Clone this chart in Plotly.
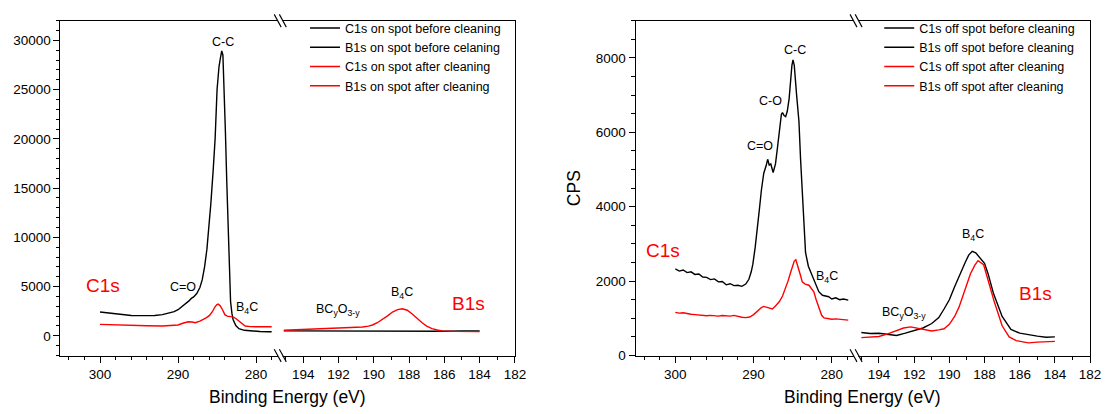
import plotly.graph_objects as go

# The page body has an 8px margin, so the figure is laid out in page pixels shifted by OFF.
OFF = 8
FW, FH = 1105, 406
FONT = "Liberation Sans, Arial, sans-serif"
BLACK = "#000000"
RED = "#FF0000"

# ---------------- data: left panel (on spot) ----------------
c1s_on_before_be = [300, 299, 298, 297, 296, 295, 294, 293, 292, 291, 290.5, 290, 289.5, 289, 288.6, 288.3,
                    288.0, 287.6, 287.2, 286.9, 286.6, 286.3, 286.05, 285.8, 285.5, 285.25, 285.0, 284.75,
                    284.55, 284.4, 284.25, 284.1, 283.93, 283.76, 283.6, 283.44, 283.27, 283.1, 282.95,
                    282.6, 282.2, 281.5, 280.5, 279.5, 278.5, 278.0]
c1s_on_before_cps = [2420, 2330, 2230, 2130, 2070, 2050, 2050, 2070, 2150, 2300, 2450, 2650, 2950, 3250, 3550, 3800,
                     3950, 4300, 4900, 5700, 7000, 8800, 10800, 13400, 16800, 20000, 25000, 27350,
                     28300, 28940, 28500, 25500, 20700, 15750, 11200, 7460, 3480, 2300, 1660,
                     1050, 730, 560, 480, 440, 420, 410]

b1s_on_before_be = [195.1, 194, 193, 192, 191, 190, 189, 188, 187, 186, 185, 184]
b1s_on_before_cps = [500, 490, 480, 470, 460, 455, 450, 450, 455, 470, 490, 500]

c1s_on_after_be = [300, 298, 296, 294, 292, 290.5, 290, 289.4, 288.7, 288.2, 287.8, 287.2, 286.8, 286.4, 286.0,
                   285.6, 285.3, 285.05, 284.85, 284.6, 284.3, 284.0, 283.7, 283.25, 282.9, 282.6, 282.3,
                   282.0, 281.7, 281.4, 280.7, 279.5, 278.0]
c1s_on_after_cps = [1160, 1090, 1060, 1020, 1000, 1040, 1100, 1280, 1430, 1400, 1330, 1490, 1620, 1820, 2050,
                    2450, 2900, 3150, 3220, 3050, 2650, 2150, 2000, 1930, 1900, 1760, 1550,
                    1330, 1120, 1000, 930, 930, 920]

b1s_on_after_be = [195.1, 194.3, 193.44, 192.7, 191.94, 191.2, 190.63, 190.3, 190.07, 189.8, 189.5, 189.2,
                   188.94, 188.65, 188.38, 188.1, 187.82, 187.55, 187.26, 187.0, 186.7, 186.4, 186.13,
                   185.5, 185.0, 184.5, 184.0]
b1s_on_after_cps = [570, 620, 670, 760, 830, 870, 900, 980, 1100, 1330, 1660, 2050,
                    2420, 2660, 2750, 2600, 2220, 1780, 1330, 990, 730, 590, 500,
                    450, 430, 430, 430]

# ---------------- data: right panel (off spot) ----------------
c1s_off_before_be = [300, 299.5, 299, 298.5, 298, 297.5, 297, 296.5, 296, 295.5, 295, 294.5, 294, 293.5, 293,
                     292.5, 292, 291.5, 291, 290.6, 290.3, 290.1, 289.8, 289.5, 289.27, 289.0, 288.7, 288.4,
                     288.2, 288.0, 287.8, 287.5, 287.2, 286.95, 286.65, 286.45, 286.31, 286.1, 285.9, 285.7,
                     285.46, 285.26, 285.1, 284.96, 284.8, 284.5, 284.2, 284.0, 283.78, 283.55, 283.36,
                     283.0, 282.5, 282.0, 281.66, 281.2, 280.8, 280.4, 280.0, 279.5, 279.0, 278.5, 277.9]
c1s_off_before_cps = [2330, 2270, 2300, 2230, 2250, 2180, 2190, 2110, 2100, 2040, 2060, 1980, 1990, 1900, 1930,
                      1880, 1890, 1860, 1920, 2050, 2250, 2450, 2900, 3400, 3910, 4450, 4900, 5100,
                      5275, 5120, 5150, 4920, 5150, 5580, 6200, 6480, 6530, 6450, 6420, 6560,
                      6900, 7430, 7800, 7950, 7800, 7000, 6290, 5300, 4530, 3500, 2770,
                      2400, 2150, 1850, 1715, 1620, 1600, 1580, 1520, 1550, 1500, 1520, 1490]

b1s_off_before_be = [195.0, 194.5, 194.0, 193.5, 193.0, 192.5, 192.0, 191.5, 191.0, 190.6, 190.3, 190.0, 189.7,
                     189.4, 189.1, 188.9, 188.7, 188.5, 188.3, 188.0, 187.8, 187.5, 187.0, 186.5, 186.0,
                     185.5, 185.0, 184.5, 184.0]
b1s_off_before_cps = [617, 590, 600, 575, 540, 600, 660, 740, 860, 1020, 1250, 1500, 1850,
                      2200, 2500, 2700, 2800, 2760, 2640, 2480, 2200, 1680, 1050, 700, 600,
                      550, 520, 490, 500]

c1s_off_after_be = [300, 299.5, 299, 298.5, 298, 297.5, 297, 296.5, 296, 295.5, 295, 294.5, 294, 293.5, 293,
                    292.5, 292, 291.5, 291, 290.5, 290, 289.5, 289.0, 288.7, 288.3, 287.9, 287.6, 287.2,
                    286.7, 286.3, 285.9, 285.6, 285.26, 285.0, 284.8, 284.6, 284.4, 284.2, 284.0, 283.78,
                    283.4, 282.93, 282.6, 282.3, 282.0, 281.66, 281.3, 281.0, 280.5, 280.0, 279.5, 279.0,
                    278.5, 277.9]
c1s_off_after_cps = [1160, 1140, 1150, 1120, 1110, 1100, 1085, 1090, 1070, 1080, 1065, 1060, 1075, 1070, 1060,
                     1080, 1050, 1030, 1020, 1035, 1100, 1200, 1290, 1320, 1300, 1270, 1250, 1330,
                     1450, 1600, 1800, 2000, 2240, 2430, 2540, 2575, 2450, 2330, 2150, 1980,
                     1920, 1890, 1800, 1715, 1500, 1275, 1080, 1010, 990, 975, 985, 970,
                     960, 950]

b1s_off_after_be = [195.0, 194.5, 194.0, 193.5, 193.0, 192.6, 192.2, 191.8, 191.4, 191.0, 190.6, 190.3, 190.0,
                    189.7, 189.45, 189.2, 188.8, 188.55, 188.37, 188.05, 187.75, 187.45, 187.0, 186.6, 186.2,
                    185.8, 185.5, 185.0, 184.5, 184.0]
b1s_off_after_cps = [480, 490, 510, 580, 660, 740, 770, 740, 690, 660, 690, 720, 840,
                     1050, 1300, 1650, 2200, 2430, 2550, 2440, 1950, 1450, 800, 500, 400,
                     370, 340, 360, 370, 380]

# ---------------- ticks ----------------
c1s_ticks = [300, 290, 280]
b1s_ticks = [194, 192, 190, 188, 186, 184, 182]
y_on_ticks = [0, 5000, 10000, 15000, 20000, 25000, 30000]
y_off_ticks = [0, 2000, 4000, 6000, 8000]

legend_on = ["C1s on spot before cleaning", "B1s on spot before celaning",
             "C1s on spot after cleaning", "B1s on spot after cleaning"]
legend_off = ["C1s off spot before cleaning", "B1s off spot before cleaning",
              "C1s off spot after cleaning", "B1s off spot after cleaning"]


def px(xp):
    return (xp - OFF) / FW


def py(yp):
    return 1 - (yp - OFF) / FH


TOP, BOT = 21, 362.5
YDOM = [py(BOT), py(TOP)]
L1, B1, R1 = 61, 283, 520
L2, B2, R2 = 642, 864.6, 1101

fig = go.Figure()
LW = 1.4


def add(x, y, name, color, xa, ya, leg):
    fig.add_trace(go.Scatter(x=x, y=y, mode="lines", name=name, xaxis=xa, yaxis=ya,
                             line=dict(color=color, width=LW), legend=leg, hoverinfo="skip"))


add(c1s_on_before_be, c1s_on_before_cps, legend_on[0], BLACK, "x", "y", "legend")
add(b1s_on_before_be, b1s_on_before_cps, legend_on[1], BLACK, "x2", "y2", "legend")
add(c1s_on_after_be, c1s_on_after_cps, legend_on[2], RED, "x", "y", "legend")
add(b1s_on_after_be, b1s_on_after_cps, legend_on[3], RED, "x2", "y2", "legend")
add(c1s_off_before_be, c1s_off_before_cps, legend_off[0], BLACK, "x3", "y3", "legend2")
add(b1s_off_before_be, b1s_off_before_cps, legend_off[1], BLACK, "x4", "y4", "legend2")
add(c1s_off_after_be, c1s_off_after_cps, legend_off[2], RED, "x3", "y3", "legend2")
add(b1s_off_after_be, b1s_off_after_cps, legend_off[3], RED, "x4", "y4", "legend2")

tickfont = dict(family=FONT, size=13.5, color="black")
common = dict(showline=True, linecolor="black", linewidth=1.2, ticks="outside", ticklen=6, tickwidth=1.2,
              tickcolor="black", showgrid=False, zeroline=False, tickfont=tickfont, fixedrange=True)

C1S_RANGE = [305.07, 276.9]
B1S_RANGE = [195.3, 182.0]


def minor(dt, t0):
    return dict(tickmode="linear", tick0=t0, dtick=dt, ticks="outside", ticklen=3.5, tickwidth=1,
                tickcolor="black", showgrid=False)


def xseg(dom, rng, ticks, minor_dt, anchor):
    return dict(common, domain=dom, range=rng, tickmode="linear", tick0=ticks[-1],
                dtick=abs(ticks[0] - ticks[1]), mirror=True, anchor=anchor,
                minor=minor(minor_dt, ticks[-1]))


def yax(dom, rng, ticks, minor_dt, anchor, **kw):
    return dict(common, domain=dom, range=rng, anchor=anchor, tickmode="linear", tick0=ticks[0],
                dtick=ticks[1] - ticks[0], tickformat="d", minor=minor(minor_dt, ticks[0]), **kw)


def yright(match, anchor):
    return dict(domain=YDOM, matches=match, anchor=anchor, side="right", showline=True, linecolor="black",
                linewidth=1.2, ticks="", showticklabels=False, showgrid=False, zeroline=False, fixedrange=True)


fig.update_layout(
    width=FW, height=FH, margin=dict(l=0, r=0, t=0, b=0),
    paper_bgcolor="white", plot_bgcolor="white",
    font=dict(family=FONT, color="black"),
    xaxis=xseg([px(L1), px(B1)], C1S_RANGE, c1s_ticks, 2, "y"),
    xaxis2=xseg([px(B1), px(R1)], B1S_RANGE, b1s_ticks, 1, "y2"),
    xaxis3=xseg([px(L2), px(B2)], C1S_RANGE, c1s_ticks, 2, "y3"),
    xaxis4=xseg([px(B2), px(R2)], B1S_RANGE, b1s_ticks, 1, "y4"),
    yaxis=yax(YDOM, [-2000, 32000], y_on_ticks, 1000, "x"),
    yaxis2=yright("y", "x2"),
    yaxis3=yax(YDOM, [0, 9000], y_off_ticks, 500, "x3",
               title=dict(text="CPS", font=dict(family=FONT, size=17.5, color="black"), standoff=10)),
    yaxis4=yright("y3", "x4"),
    legend=dict(x=px(308), y=py(13.5), xanchor="left", yanchor="top", bgcolor="rgba(0,0,0,0)",
                borderwidth=0, font=dict(family=FONT, size=12.5, color="black"), tracegroupgap=0,
                itemwidth=30),
    legend2=dict(x=px(888), y=py(13.5), xanchor="left", yanchor="top", bgcolor="rgba(0,0,0,0)",
                 borderwidth=0, font=dict(family=FONT, size=12.5, color="black"), tracegroupgap=0,
                 itemwidth=30),
    showlegend=True,
)

# ---------------- annotations ----------------
ann = []


def note(text, x, y, xref, yref, size=12.5, color="black"):
    ann.append(dict(text=text, x=x, y=y, xref=xref, yref=yref, showarrow=False, xanchor="center",
                    yanchor="middle", font=dict(family=FONT, size=size, color=color)))


note("C-C", 284.25, 29800, "x", "y")
note("C=O", 289.4, 5000, "x", "y")
note("B<sub>4</sub>C", 281.1, 2800, "x", "y")
note("C1s", 299.6, 5150, "x", "y", size=19, color=RED)
note("BC<sub>y</sub>O<sub>3-y</sub>", 192.0, 2650, "x2", "y2")
note("B<sub>4</sub>C", 188.4, 4400, "x2", "y2")
note("B1s", 184.65, 3300, "x2", "y2", size=19, color=RED)

note("C-C", 284.7, 8220, "x3", "y3")
note("C-O", 287.8, 6850, "x3", "y3")
note("C=O", 289.2, 5620, "x3", "y3")
note("B<sub>4</sub>C", 280.6, 2100, "x3", "y3")
note("C1s", 301.6, 2810, "x3", "y3", size=19, color=RED)
note("BC<sub>y</sub>O<sub>3-y</sub>", 192.55, 1150, "x4", "y4")
note("B<sub>4</sub>C", 188.65, 3250, "x4", "y4")
note("B1s", 185.1, 1670, "x4", "y4", size=19, color=RED)

for cx in (290.5, 871.5):
    ann.append(dict(text="Binding Energy (eV)", x=px(cx), y=py(405), xref="paper", yref="paper",
                    showarrow=False, xanchor="center", yanchor="middle",
                    font=dict(family=FONT, size=17.5, color="black")))
fig.update_layout(annotations=ann)

# ---------------- axis-break marks ----------------
shapes = []
for bx in (B1, B2):
    for yy in (TOP, BOT):
        shapes.append(dict(type="line", xref="paper", yref="paper", x0=px(bx - 2.3), x1=px(bx + 2.3),
                           y0=py(yy), y1=py(yy), line=dict(color="white", width=3), layer="above"))
        for off in (-2.6, 2.6):
            shapes.append(dict(type="line", xref="paper", yref="paper",
                               x0=px(bx + off - 3.5), y0=py(yy - 6.5), x1=px(bx + off + 3.5), y1=py(yy + 6.5),
                               line=dict(color="black", width=1.1), layer="above"))
fig.update_layout(shapes=shapes)

fig.write_html("out.html")
